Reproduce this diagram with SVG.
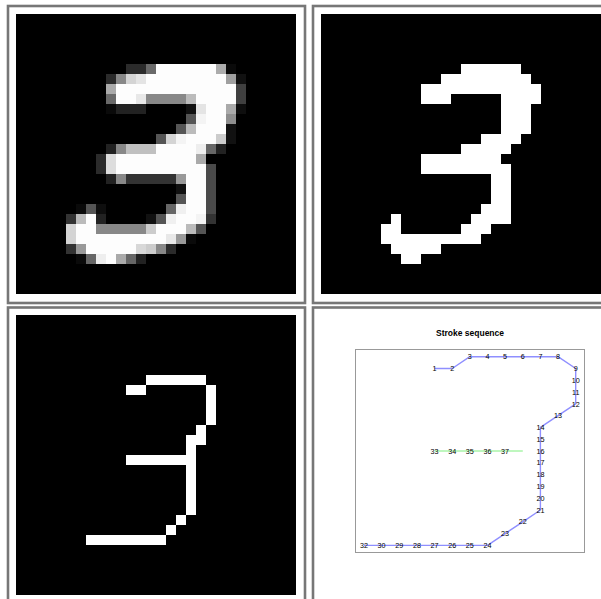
<svg xmlns="http://www.w3.org/2000/svg" width="601" height="599" viewBox="0 0 601 599">
<style>
.frame{fill:none;stroke:#777;stroke-width:2.6}
.px rect{shape-rendering:crispEdges}
.w{fill:#fdfdfd}
.lbl{font-family:"Liberation Sans",Arial,sans-serif;font-size:7.2px;fill:#000;text-anchor:middle}
.title{font-family:"Liberation Sans",Arial,sans-serif;font-size:8.5px;font-weight:bold;fill:#000;text-anchor:middle}
</style>
<rect x="0" y="0" width="601" height="599" fill="#fff"/>

<!-- Panel 1: grayscale digit -->
<g id="panel-gray">
<rect class="frame" x="8" y="6" width="297" height="297"/>
<g class="px">
<rect x="16" y="14" width="280" height="280" fill="#000"/>
<!-- row 5 -->
<rect x="126" y="64" width="20" height="10" fill="#2b2b2b"/>
<rect x="146" y="64" width="10" height="10" fill="#6a6a6a"/>
<rect class="w" x="156" y="64" width="60" height="10"/>
<rect x="216" y="64" width="10" height="10" fill="#acacac"/>
<rect x="226" y="64" width="10" height="10" fill="#0a0a0a"/>
<!-- row 6 -->
<rect x="106" y="74" width="10" height="10" fill="#2b2b2b"/>
<rect x="116" y="74" width="10" height="10" fill="#888"/>
<rect x="126" y="74" width="10" height="10" fill="#d4d4d4"/>
<rect x="136" y="74" width="10" height="10" fill="#e4e4e4"/>
<rect class="w" x="146" y="74" width="80" height="10"/>
<rect x="226" y="74" width="10" height="10" fill="#a0a0a0"/>
<rect x="236" y="74" width="10" height="10" fill="#111"/>
<!-- row 7 -->
<rect x="106" y="84" width="10" height="10" fill="#aaa"/>
<rect class="w" x="116" y="84" width="120" height="10"/>
<rect x="236" y="84" width="10" height="10" fill="#404040"/>
<!-- row 8 -->
<rect x="106" y="94" width="10" height="10" fill="#6a6a6a"/>
<rect class="w" x="116" y="94" width="20" height="10"/>
<rect x="136" y="94" width="10" height="10" fill="#e8e8e8"/>
<rect x="146" y="94" width="40" height="10" fill="#888"/>
<rect x="186" y="94" width="10" height="10" fill="#bbb"/>
<rect class="w" x="196" y="94" width="40" height="10"/>
<rect x="236" y="94" width="10" height="10" fill="#404040"/>
<!-- row 9 -->
<rect x="106" y="104" width="10" height="10" fill="#0a0a0a"/>
<rect x="116" y="104" width="30" height="10" fill="#222"/>
<rect x="186" y="104" width="10" height="10" fill="#111"/>
<rect x="196" y="104" width="10" height="10" fill="#e4e4e4"/>
<rect class="w" x="206" y="104" width="20" height="10"/>
<rect x="226" y="104" width="10" height="10" fill="#aaa"/>
<rect x="236" y="104" width="10" height="10" fill="#0e0e0e"/>
<!-- row 10 -->
<rect x="186" y="114" width="10" height="10" fill="#555"/>
<rect x="196" y="114" width="10" height="10" fill="#f4f4f4"/>
<rect class="w" x="206" y="114" width="20" height="10"/>
<rect x="226" y="114" width="10" height="10" fill="#8e8e8e"/>
<!-- row 11 -->
<rect x="176" y="124" width="10" height="10" fill="#555"/>
<rect x="186" y="124" width="10" height="10" fill="#bbb"/>
<rect class="w" x="196" y="124" width="30" height="10"/>
<rect x="226" y="124" width="10" height="10" fill="#111"/>
<!-- row 12 -->
<rect x="156" y="134" width="10" height="10" fill="#555"/>
<rect x="166" y="134" width="10" height="10" fill="#d4d4d4"/>
<rect x="176" y="134" width="10" height="10" fill="#f4f4f4"/>
<rect class="w" x="186" y="134" width="30" height="10"/>
<rect x="216" y="134" width="10" height="10" fill="#ccc"/>
<rect x="226" y="134" width="10" height="10" fill="#111"/>
<!-- row 13 -->
<rect x="106" y="144" width="10" height="10" fill="#222"/>
<rect x="116" y="144" width="10" height="10" fill="#888"/>
<rect x="126" y="144" width="30" height="10" fill="#c0c0c0"/>
<rect class="w" x="156" y="144" width="40" height="10"/>
<rect x="196" y="144" width="10" height="10" fill="#eee"/>
<rect x="206" y="144" width="10" height="10" fill="#666"/>
<rect x="216" y="144" width="10" height="10" fill="#222"/>
<!-- row 14 -->
<rect x="96" y="154" width="10" height="10" fill="#2b2b2b"/>
<rect x="106" y="154" width="10" height="10" fill="#ddd"/>
<rect class="w" x="116" y="154" width="80" height="10"/>
<rect x="196" y="154" width="10" height="10" fill="#aaa"/>
<!-- row 15 -->
<rect x="96" y="164" width="10" height="10" fill="#2b2b2b"/>
<rect x="106" y="164" width="10" height="10" fill="#ddd"/>
<rect class="w" x="116" y="164" width="90" height="10"/>
<rect x="206" y="164" width="10" height="10" fill="#4a4a4a"/>
<!-- row 16 -->
<rect x="106" y="174" width="10" height="10" fill="#222"/>
<rect x="116" y="174" width="10" height="10" fill="#888"/>
<rect x="126" y="174" width="50" height="10" fill="#333"/>
<rect x="176" y="174" width="10" height="10" fill="#999"/>
<rect class="w" x="186" y="174" width="20" height="10"/>
<rect x="206" y="174" width="10" height="10" fill="#4a4a4a"/>
<!-- row 17 -->
<rect x="176" y="184" width="10" height="10" fill="#111"/>
<rect class="w" x="186" y="184" width="20" height="10"/>
<rect x="206" y="184" width="10" height="10" fill="#4a4a4a"/>
<!-- row 18 -->
<rect x="176" y="194" width="10" height="10" fill="#555"/>
<rect class="w" x="186" y="194" width="20" height="10"/>
<rect x="206" y="194" width="10" height="10" fill="#4a4a4a"/>
<!-- row 19 -->
<rect x="76" y="204" width="10" height="10" fill="#0a0a0a"/>
<rect x="86" y="204" width="10" height="10" fill="#555"/>
<rect x="96" y="204" width="10" height="10" fill="#0e0e0e"/>
<rect x="166" y="204" width="10" height="10" fill="#666"/>
<rect x="176" y="204" width="10" height="10" fill="#f0f0f0"/>
<rect class="w" x="186" y="204" width="20" height="10"/>
<rect x="206" y="204" width="10" height="10" fill="#4a4a4a"/>
<!-- row 20 -->
<rect x="66" y="214" width="10" height="10" fill="#333"/>
<rect x="76" y="214" width="10" height="10" fill="#bbb"/>
<rect class="w" x="86" y="214" width="10" height="10"/>
<rect x="96" y="214" width="10" height="10" fill="#222"/>
<rect x="146" y="214" width="10" height="10" fill="#111"/>
<rect x="156" y="214" width="10" height="10" fill="#555"/>
<rect x="166" y="214" width="10" height="10" fill="#f0f0f0"/>
<rect class="w" x="176" y="214" width="20" height="10"/>
<rect x="196" y="214" width="10" height="10" fill="#f4f4f4"/>
<rect x="206" y="214" width="10" height="10" fill="#333"/>
<!-- row 21 -->
<rect x="66" y="224" width="10" height="10" fill="#d4d4d4"/>
<rect class="w" x="76" y="224" width="20" height="10"/>
<rect x="96" y="224" width="50" height="10" fill="#888"/>
<rect x="146" y="224" width="10" height="10" fill="#ccc"/>
<rect class="w" x="156" y="224" width="30" height="10"/>
<rect x="186" y="224" width="10" height="10" fill="#bbb"/>
<rect x="196" y="224" width="10" height="10" fill="#555"/>
<!-- row 22 -->
<rect x="66" y="234" width="10" height="10" fill="#d4d4d4"/>
<rect class="w" x="76" y="234" width="90" height="10"/>
<rect x="166" y="234" width="10" height="10" fill="#e8e8e8"/>
<rect x="176" y="234" width="10" height="10" fill="#999"/>
<rect x="186" y="234" width="10" height="10" fill="#0a0a0a"/>
<!-- row 23 -->
<rect x="66" y="244" width="10" height="10" fill="#333"/>
<rect x="76" y="244" width="10" height="10" fill="#999"/>
<rect class="w" x="86" y="244" width="50" height="10"/>
<rect x="136" y="244" width="10" height="10" fill="#d8d8d8"/>
<rect x="146" y="244" width="10" height="10" fill="#ccc"/>
<rect x="156" y="244" width="10" height="10" fill="#888"/>
<rect x="166" y="244" width="10" height="10" fill="#2b2b2b"/>
<!-- row 24 -->
<rect x="76" y="254" width="10" height="10" fill="#0a0a0a"/>
<rect x="86" y="254" width="10" height="10" fill="#666"/>
<rect x="96" y="254" width="10" height="10" fill="#eee"/>
<rect class="w" x="106" y="254" width="10" height="10"/>
<rect x="116" y="254" width="10" height="10" fill="#aaa"/>
<rect x="126" y="254" width="10" height="10" fill="#666"/>
<rect x="136" y="254" width="10" height="10" fill="#222"/>
</g>
</g>

<!-- Panel 2: binarized digit -->
<g id="panel-binary">
<rect class="frame" x="313" y="6" width="300" height="297"/>
<g class="px" fill="#fff">
<rect x="321" y="14" width="280" height="280" fill="#000"/>
<rect x="461" y="64" width="60" height="10"/>
<rect x="441" y="74" width="90" height="10"/>
<rect x="421" y="84" width="120" height="10"/>
<rect x="421" y="94" width="30" height="10"/>
<rect x="501" y="94" width="40" height="10"/>
<rect x="501" y="104" width="30" height="30"/>
<rect x="481" y="134" width="40" height="10"/>
<rect x="461" y="144" width="50" height="10"/>
<rect x="421" y="154" width="80" height="10"/>
<rect x="421" y="164" width="90" height="10"/>
<rect x="491" y="174" width="20" height="30"/>
<rect x="481" y="204" width="30" height="10"/>
<rect x="391" y="214" width="10" height="10"/>
<rect x="471" y="214" width="40" height="10"/>
<rect x="381" y="224" width="20" height="10"/>
<rect x="461" y="224" width="30" height="10"/>
<rect x="381" y="234" width="100" height="10"/>
<rect x="391" y="244" width="50" height="10"/>
<rect x="401" y="254" width="20" height="10"/>
</g>
</g>

<!-- Panel 3: skeleton -->
<g id="panel-skeleton">
<rect class="frame" x="8" y="307.5" width="297" height="300"/>
<g class="px" fill="#fff">
<rect x="16" y="315" width="280" height="280" fill="#000"/>
<rect x="146" y="375" width="60" height="10"/>
<rect x="126" y="385" width="20" height="10"/>
<rect x="206" y="385" width="10" height="40"/>
<rect x="196" y="425" width="10" height="10"/>
<rect x="186" y="435" width="20" height="10"/>
<rect x="186" y="445" width="10" height="70"/>
<rect x="126" y="455" width="60" height="10"/>
<rect x="176" y="515" width="10" height="10"/>
<rect x="166" y="525" width="10" height="10"/>
<rect x="86" y="535" width="80" height="10"/>
</g>
</g>

<!-- Panel 4: stroke sequence plot -->
<g id="panel-sequence">
<rect class="frame" x="313" y="307.5" width="300" height="300"/>
<text class="title" x="470" y="335.5">Stroke sequence</text>
<rect x="355.5" y="349.5" width="229" height="203" fill="none" stroke="#999" stroke-width="1"/>
<g id="connectors">
<polyline fill="none" stroke="#8f8fff" stroke-width="1.4" stroke-linejoin="round" points="434.6,368.5 452.2,368.5 469.8,356.7 487.5,356.7 505.1,356.7 522.8,356.7 540.4,356.7 558.0,356.7 575.7,368.5 575.7,380.3 575.7,392.1 575.7,403.9 558.0,415.7 540.4,427.4 540.4,439.2 540.4,451.0 540.4,462.8 540.4,474.6 540.4,486.4 540.4,498.2 540.4,510.0 522.8,521.8 505.1,533.6 487.5,545.4 469.8,545.4 452.2,545.4 434.6,545.4 416.9,545.4 399.3,545.4 381.6,545.4 364.0,545.4"/>
<polyline fill="none" stroke="#7fef7f" stroke-width="1" points="434.6,451.0 452.2,451.0 469.8,451.0 487.5,451.0 505.1,451.0 522.8,451.0"/>
</g>
<g id="labels">
<text class="lbl" x="434.6" y="371.1">1</text>
<text class="lbl" x="452.2" y="371.1">2</text>
<text class="lbl" x="469.8" y="359.3">3</text>
<text class="lbl" x="487.5" y="359.3">4</text>
<text class="lbl" x="505.1" y="359.3">5</text>
<text class="lbl" x="522.8" y="359.3">6</text>
<text class="lbl" x="540.4" y="359.3">7</text>
<text class="lbl" x="558.0" y="359.3">8</text>
<text class="lbl" x="575.7" y="371.1">9</text>
<text class="lbl" x="575.7" y="382.9">10</text>
<text class="lbl" x="575.7" y="394.7">11</text>
<text class="lbl" x="575.7" y="406.5">12</text>
<text class="lbl" x="558.0" y="418.3">13</text>
<text class="lbl" x="540.4" y="430.0">14</text>
<text class="lbl" x="540.4" y="441.8">15</text>
<text class="lbl" x="540.4" y="453.6">16</text>
<text class="lbl" x="540.4" y="465.4">17</text>
<text class="lbl" x="540.4" y="477.2">18</text>
<text class="lbl" x="540.4" y="489.0">19</text>
<text class="lbl" x="540.4" y="500.8">20</text>
<text class="lbl" x="540.4" y="512.6">21</text>
<text class="lbl" x="522.8" y="524.4">22</text>
<text class="lbl" x="505.1" y="536.2">23</text>
<text class="lbl" x="487.5" y="548.0">24</text>
<text class="lbl" x="469.8" y="548.0">25</text>
<text class="lbl" x="452.2" y="548.0">26</text>
<text class="lbl" x="434.6" y="548.0">27</text>
<text class="lbl" x="416.9" y="548.0">28</text>
<text class="lbl" x="399.3" y="548.0">29</text>
<text class="lbl" x="381.6" y="548.0">30</text>
<text class="lbl" x="364.0" y="548.0">32</text>
<text class="lbl" x="434.6" y="453.6">33</text>
<text class="lbl" x="452.2" y="453.6">34</text>
<text class="lbl" x="469.8" y="453.6">35</text>
<text class="lbl" x="487.5" y="453.6">36</text>
<text class="lbl" x="505.1" y="453.6">37</text>
</g>
</g>
</svg>
